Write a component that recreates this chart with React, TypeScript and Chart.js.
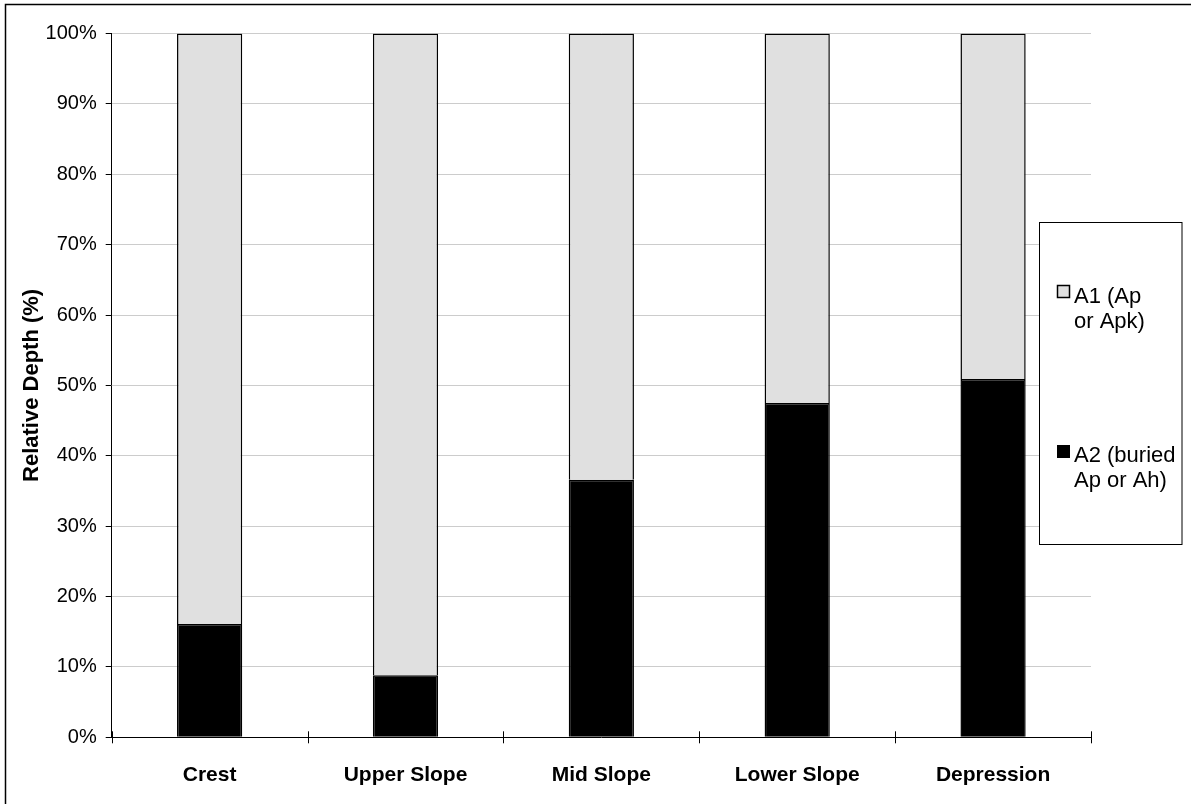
import { useEffect, useRef } from 'react'
import { Chart, registerables } from 'chart.js'

Chart.register(...registerables)

const categories = ['Crest', 'Upper Slope', 'Mid Slope', 'Lower Slope', 'Depression']
// A2 (buried) share of relative depth, bottom segment
const a2Values = [16.1, 8.8, 36.6, 47.5, 50.9]
// A1 share, the rest up to 100%
const a1Values = [83.9, 91.2, 63.4, 52.5, 49.1]
const a1Label = ['A1 (Ap', 'or Apk)']
const a2Label = ['A2 (buried', 'Ap or Ah)']
const yTitle = 'Relative Depth (%)'

const FONT = 'Arial, "Liberation Sans", sans-serif'
const GREY = '#e0e0e0'

const decor = {
  id: 'decor',
  afterDraw(chart: any) {
    const ctx = chart.ctx
    const xs = chart.scales.x
    const ys = chart.scales.y
    ctx.save()

    // outer frame
    ctx.strokeStyle = '#000'
    ctx.lineWidth = 1.5
    ctx.strokeRect(5.5, 4.5, 1220, 830)

    // category separator ticks crossing the x axis
    ctx.lineWidth = 1
    ctx.strokeStyle = '#000'
    const n = categories.length
    for (let i = 0; i <= n; i++) {
      const x = Math.round(xs.left + (i * (xs.right - xs.left)) / n) + 0.5
      ctx.beginPath()
      ctx.moveTo(x, ys.bottom - 6)
      ctx.lineTo(x, ys.bottom + 6)
      ctx.stroke()
    }

    // y axis title
    ctx.save()
    ctx.translate(31.5, (ys.top + ys.bottom) / 2)
    ctx.rotate(-Math.PI / 2)
    ctx.font = 'bold 22px ' + FONT
    ctx.fillStyle = '#000'
    ctx.textAlign = 'center'
    ctx.textBaseline = 'middle'
    ctx.fillText(yTitle, 0, 0)
    ctx.restore()

    // legend box
    ctx.fillStyle = '#fff'
    ctx.fillRect(1039.5, 222.5, 142.5, 322)
    ctx.strokeStyle = '#000'
    ctx.lineWidth = 1
    ctx.strokeRect(1039.5, 222.5, 142.5, 322)

    ctx.fillStyle = GREY
    ctx.fillRect(1057.5, 285.5, 12, 12)
    ctx.lineWidth = 1.5
    ctx.strokeRect(1057.5, 285.5, 12, 12)
    ctx.fillStyle = '#000'
    ctx.fillRect(1057, 445, 13, 13)

    ctx.font = '22px ' + FONT
    ctx.textAlign = 'left'
    ctx.textBaseline = 'middle'
    ctx.fillText(a1Label[0], 1074, 297)
    ctx.fillText(a1Label[1], 1074, 322)
    ctx.fillText(a2Label[0], 1074, 456)
    ctx.fillText(a2Label[1], 1074, 481)

    ctx.restore()
  },
}

export default function App() {
  const canvasRef = useRef<HTMLCanvasElement | null>(null)
  const chartRef = useRef<Chart | null>(null)

  useEffect(() => {
    const ctx = canvasRef.current?.getContext('2d')
    if (!ctx) return

    chartRef.current = new Chart(ctx, {
      type: 'bar',
      data: {
        labels: categories,
        datasets: [
          {
            label: a2Label.join(' '),
            data: a2Values,
            backgroundColor: '#000',
            borderColor: '#000',
            borderWidth: 1.5,
            categoryPercentage: 1,
            barPercentage: 0.333,
          },
          {
            label: a1Label.join(' '),
            data: a1Values,
            backgroundColor: GREY,
            borderColor: '#000',
            borderWidth: 1.5,
            categoryPercentage: 1,
            barPercentage: 0.333,
          },
        ],
      },
      options: {
        animation: false,
        responsive: true,
        maintainAspectRatio: false,
        layout: { padding: { top: 33.5, right: 100, left: 0, bottom: 0 } },
        plugins: {
          legend: { display: false },
          tooltip: { enabled: false },
        },
        scales: {
          x: {
            stacked: true,
            afterFit: (scale: any) => {
              scale.height = 66.7
            },
            grid: { drawOnChartArea: false, drawTicks: false },
            border: { display: true, color: '#000', width: 1 },
            ticks: {
              color: '#000',
              padding: 25,
              font: { family: FONT, size: 21, weight: 'bold' },
            },
          },
          y: {
            stacked: true,
            min: 0,
            max: 100,
            afterFit: (scale: any) => {
              scale.width = 111.7
            },
            grid: { color: '#cccccc', tickColor: '#000', tickLength: 6, lineWidth: 1 },
            border: { display: true, color: '#000', width: 1 },
            ticks: {
              stepSize: 10,
              color: '#000',
              padding: 9,
              font: { family: FONT, size: 20 },
              callback: (v: any) => v + '%',
            },
          },
        },
      },
      plugins: [decor],
    })
    return () => chartRef.current?.destroy()
  }, [])

  return (
    <div style={{ position: 'absolute', left: 0, top: 0, width: 1191, height: 804, background: '#fff' }}>
      <canvas ref={canvasRef} />
    </div>
  )
}
